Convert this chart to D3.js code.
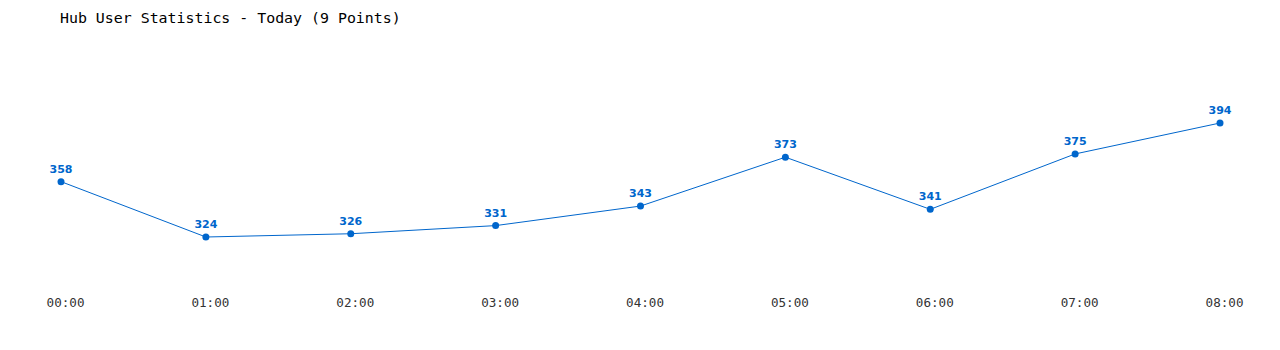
<!DOCTYPE html>
<html>
<head>
<meta charset="utf-8">
<script src="https://cdn.jsdelivr.net/npm/d3@7"></script>
<style>
  body { margin: 0; background: #fff; }
  svg { display: block; }
</style>
</head>
<body>
<div id="chart"></div>
<script>
const hours = ["00:00", "01:00", "02:00", "03:00", "04:00", "05:00", "06:00", "07:00", "08:00"];
const users = [358, 324, 326, 331, 343, 373, 341, 375, 394];

const width = 1280;
const height = 350;
const blue = "#0066cc";

const svg = d3.select("#chart").append("svg")
    .attr("width", width)
    .attr("height", height);

const x = d3.scalePoint()
    .domain(hours)
    .range([61, 1220]);

const y = d3.scaleLinear()
    .domain([324, 394])
    .range([237, 123]);

// title
svg.append("text")
    .attr("x", 60)
    .attr("y", 23)
    .style("font-family", "'DejaVu Sans Mono', monospace")
    .style("font-size", "14.9px")
    .attr("fill", "#000")
    .text("Hub User Statistics - Today (9 Points)");

// x axis labels only
const xAxis = d3.axisBottom(x).tickSize(0).tickPadding(0);
const gx = svg.append("g")
    .attr("transform", "translate(4,298)")
    .call(xAxis);
gx.select(".domain").remove();
gx.selectAll("text")
    .attr("dy", "0.71em")
    .style("font-family", "'DejaVu Sans Mono', monospace")
    .style("font-size", "12.6px")
    .attr("fill", "#333");

const line = d3.line()
    .x((d, i) => x(hours[i]))
    .y(d => y(d));

svg.append("path")
    .datum(users)
    .attr("fill", "none")
    .attr("stroke", blue)
    .attr("stroke-width", 1)
    .attr("d", line);

svg.selectAll("circle.pt")
    .data(users)
    .enter().append("circle")
    .attr("class", "pt")
    .attr("cx", (d, i) => x(hours[i]))
    .attr("cy", d => y(d))
    .attr("r", 3.5)
    .attr("fill", blue);

svg.selectAll("text.val")
    .data(users)
    .enter().append("text")
    .attr("class", "val")
    .attr("x", (d, i) => x(hours[i]))
    .attr("y", d => y(d) - 9)
    .attr("text-anchor", "middle")
    .style("font-family", "'DejaVu Sans', Verdana, sans-serif")
    .style("font-size", "11px")
    .style("font-weight", "bold")
    .attr("fill", blue)
    .text(d => d);
</script>
</body>
</html>
